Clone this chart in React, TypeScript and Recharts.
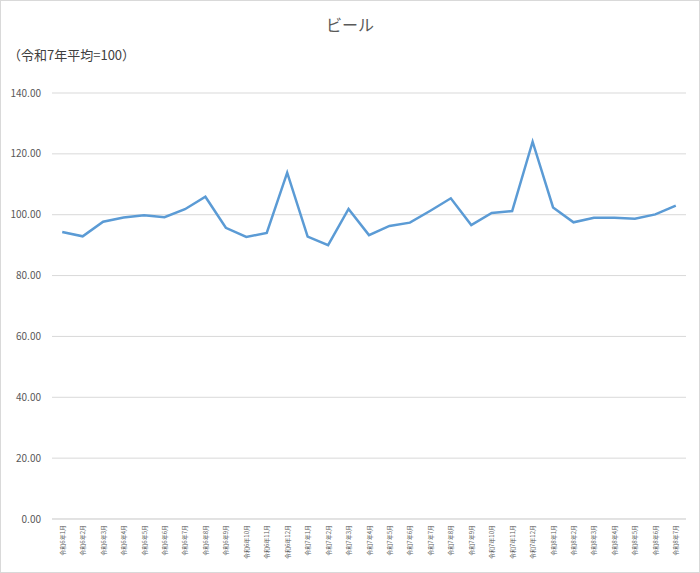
import { LineChart, Line, XAxis, YAxis, CartesianGrid } from 'recharts'

const months = [
  '令和6年1月', '令和6年2月', '令和6年3月', '令和6年4月', '令和6年5月', '令和6年6月',
  '令和6年7月', '令和6年8月', '令和6年9月', '令和6年10月', '令和6年11月', '令和6年12月',
  '令和7年1月', '令和7年2月', '令和7年3月', '令和7年4月', '令和7年5月', '令和7年6月',
  '令和7年7月', '令和7年8月', '令和7年9月', '令和7年10月', '令和7年11月', '令和7年12月',
  '令和8年1月', '令和8年2月', '令和8年3月', '令和8年4月', '令和8年5月', '令和8年6月',
  '令和8年7月',
]

const beerIndex = [
  94.3, 92.9, 97.7, 99.1, 99.8, 99.2, 101.8, 105.9, 95.7, 92.7, 94.0, 113.8,
  92.8, 90.0, 101.9, 93.3, 96.3, 97.4, 101.3, 105.4, 96.6, 100.6, 101.2, 124.0,
  102.4, 97.5, 99.0, 99.0, 98.7, 100.1, 103.0,
]

const yTicks = [0, 20, 40, 60, 80, 100, 120, 140]

const data = months.map((m, i) => ({ month: m, value: beerIndex[i] }))

const FONT = '"Noto Sans CJK JP", "Noto Sans", sans-serif'
const TEXT = '#595959'

function MonthTick({ x, y, payload }: any) {
  return (
    <g transform={`translate(${x},${y})`}>
      <text
        transform="rotate(-90)"
        textAnchor="end"
        dominantBaseline="central"
        fontSize={6}
        fill={TEXT}
        fontFamily={FONT}
      >
        {payload.value}
      </text>
    </g>
  )
}

export default function App() {
  return (
    <div
      style={{
        position: 'absolute',
        left: 0,
        top: 0,
        width: 700,
        height: 573,
        border: '1px solid #d9d9d9',
        boxSizing: 'border-box',
        background: '#fff',
        fontFamily: FONT,
      }}
    >
      <div
        style={{
          position: 'absolute',
          left: 0,
          width: 698,
          top: 11,
          textAlign: 'center',
          fontSize: 16,
          color: TEXT,
        }}
      >
        ビール
      </div>
      <div style={{ position: 'absolute', left: 7, top: 44, fontSize: 13, color: '#404040' }}>
        （令和7年平均=100）
      </div>
      <LineChart width={698} height={571} data={data} margin={{ top: 92, right: 13, left: 0, bottom: 0 }}>
        <CartesianGrid vertical={false} stroke="#d9d9d9" />
        <XAxis
          dataKey="month"
          scale="band"
          interval={0}
          height={53}
          tickSize={0}
          tickMargin={6}
          tick={<MonthTick />}
          axisLine={{ stroke: '#d9d9d9' }}
          tickLine={false}
        />
        <YAxis
          domain={[0, 140]}
          ticks={yTicks}
          width={51}
          tickSize={0}
          tickMargin={11}
          axisLine={false}
          tickLine={false}
          tickFormatter={(v: number) => v.toFixed(2)}
          tick={{ fontSize: 10, fill: TEXT, fontFamily: FONT }}
        />
        <Line
          type="linear"
          dataKey="value"
          stroke="#5b9bd5"
          strokeWidth={2.5}
          dot={false}
          isAnimationActive={false}
        />
      </LineChart>
    </div>
  )
}
